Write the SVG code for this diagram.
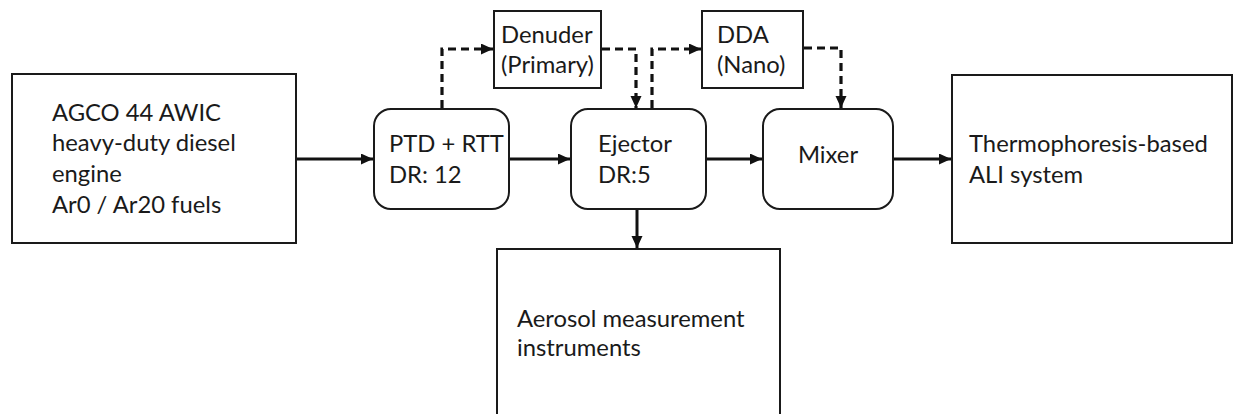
<svg xmlns="http://www.w3.org/2000/svg" width="1233" height="414" viewBox="0 0 1233 414">
<style>
.box{fill:#fff;stroke:#1a1a1a;stroke-width:2}
.t{font-family:Lato,"Liberation Sans",sans-serif;font-size:23.8px;fill:#1a1a1a}
.a{fill:none;stroke:#111;stroke-width:3}
.d{fill:none;stroke:#111;stroke-width:3.2;stroke-dasharray:8 5}
</style>
<defs>
<marker id="ah" markerUnits="userSpaceOnUse" markerWidth="13" markerHeight="12" refX="12" refY="5.5" orient="auto">
<path d="M0,0 L12,5.5 L0,11 Z" fill="#111"/>
</marker>
</defs>
<rect width="1233" height="414" fill="#fff"/>
<g id="connectors">
<line class="a" x1="296" y1="159" x2="373" y2="159" marker-end="url(#ah)"/>
<line class="a" x1="509" y1="159" x2="570" y2="159" marker-end="url(#ah)"/>
<line class="a" x1="706" y1="159" x2="762" y2="159" marker-end="url(#ah)"/>
<line class="a" x1="893" y1="159" x2="951" y2="159" marker-end="url(#ah)"/>
<line class="a" x1="637" y1="209" x2="637" y2="248" marker-end="url(#ah)"/>
<polyline class="d" points="442,108 442,49 493,49" marker-end="url(#ah)"/>
<polyline class="d" points="602,49 636,49 636,108" marker-end="url(#ah)"/>
<polyline class="d" points="652,108 652,49 701,49" marker-end="url(#ah)"/>
<polyline class="d" points="804,48 841,48 841,108" marker-end="url(#ah)"/>
</g>
<g id="engine">
<rect class="box" x="12" y="74" width="284" height="169"/>
<text class="t" x="52" y="121">AGCO 44 AWIC</text>
<text class="t" x="52" y="151">heavy-duty diesel</text>
<text class="t" x="52" y="182">engine</text>
<text class="t" x="52" y="213">Ar0 / Ar20 fuels</text>
</g>
<g id="ptd">
<rect class="box" x="374" y="109" width="135" height="100" rx="17"/>
<text class="t" x="389" y="152">PTD + RTT</text>
<text class="t" x="389" y="183">DR: 12</text>
</g>
<g id="denuder">
<rect class="box" x="494" y="11" width="107" height="77"/>
<text class="t" x="501" y="43">Denuder</text>
<text class="t" x="501" y="73">(Primary)</text>
</g>
<g id="ejector">
<rect class="box" x="571" y="109" width="135" height="100" rx="17"/>
<text class="t" x="598" y="152">Ejector</text>
<text class="t" x="598" y="183">DR:5</text>
</g>
<g id="dda">
<rect class="box" x="702" y="11" width="101" height="77"/>
<text class="t" x="717" y="43">DDA</text>
<text class="t" x="717" y="73">(Nano)</text>
</g>
<g id="mixer">
<rect class="box" x="763" y="109" width="130" height="100" rx="17"/>
<text class="t" x="828" y="163" text-anchor="middle">Mixer</text>
</g>
<g id="ali">
<rect class="box" x="952" y="75" width="280" height="168"/>
<text class="t" x="969" y="152">Thermophoresis-based</text>
<text class="t" x="969" y="183">ALI system</text>
</g>
<g id="aerosol">
<rect class="box" x="497" y="249" width="283" height="175"/>
<text class="t" x="517" y="327">Aerosol measurement</text>
<text class="t" x="517" y="356">instruments</text>
</g>
</svg>
